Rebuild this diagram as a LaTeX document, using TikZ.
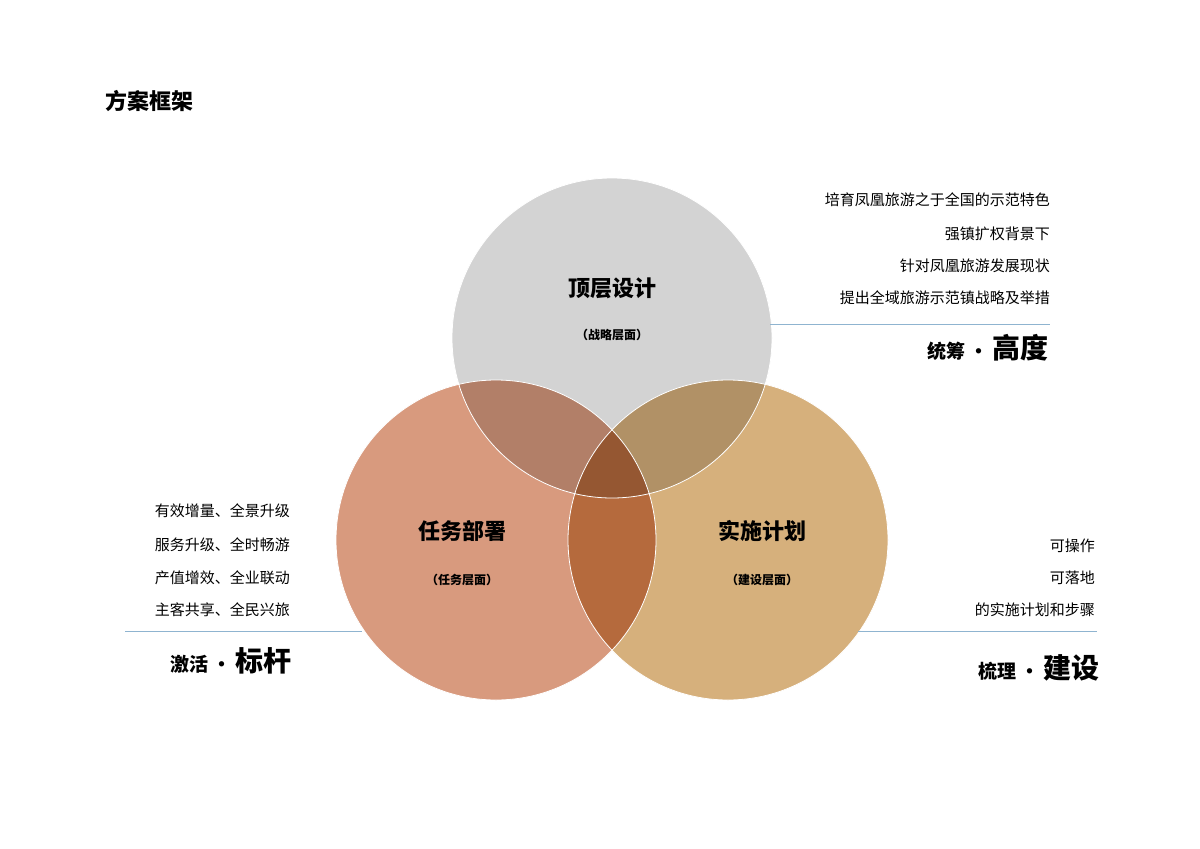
\documentclass[tikz,border=0pt]{standalone}
\usepackage{fontspec}
\setmainfont{Noto Sans CJK SC}
\definecolor{cgray}{HTML}{D3D3D3}
\definecolor{cleft}{HTML}{D89A7E}
\definecolor{cright}{HTML}{D6B07C}
\definecolor{lblue}{HTML}{8FB4D0}
\tikzset{
  circ/.style={blend mode=multiply},
  rline/.style={draw=lblue,line width=1pt},
  info/.style={anchor=east,inner sep=0pt,font=\fontsize{15}{15}\selectfont},
  head/.style={inner sep=0pt,font=\bfseries\fontsize{22}{22}\selectfont},
  sub/.style={inner sep=0pt,font=\bfseries\fontsize{12}{12}\selectfont},
  big/.style={anchor=east,inner sep=0pt,font=\bfseries\fontsize{19}{19}\selectfont}
}
\newcommand{\bigtxt}{\fontsize{28}{28}\selectfont}
\begin{document}
\begin{tikzpicture}[x=1pt,y=-1pt]
\useasboundingbox (0,0) rectangle (1200,849);
\fill[white] (0,0) rectangle (1200,849);
\node[anchor=west,inner sep=0pt,font=\bfseries\fontsize{22}{22}\selectfont] (title) at (105,101) {方案框架};
\begin{scope}[transparency group]
\fill[cgray,circ] (612,338) circle (160);
\fill[cleft,circ] (496,540) circle (160);
\fill[cright,circ] (728,540) circle (160);
\end{scope}
\draw[white,line width=0.8pt] (612,338) circle (160) (496,540) circle (160) (728,540) circle (160);
\node[head] (t1) at (612,288) {顶层设计};
\node[sub] (s1) at (612,335) {（战略层面）};
\node[head] (t2) at (462,531) {任务部署};
\node[sub] (s2) at (462,580) {（任务层面）};
\node[head] (t3) at (762,531) {实施计划};
\node[sub] (s3) at (762,580) {（建设层面）};
% right top
\node[info] (a1) at (1050,200) {培育凤凰旅游之于全国的示范特色};
\node[info] (a2) at (1050,234) {强镇扩权背景下};
\node[info] (a3) at (1050,266) {针对凤凰旅游发展现状};
\node[info] (a4) at (1050,298) {提出全域旅游示范镇战略及举措};
\coordinate (la1) at (770,324); \coordinate (la2) at (1050,324);
\draw[rline] (la1) -- (la2);
\node[big] (ha) at (1049,348) {统筹 · {\bigtxt 高度}};
% left
\node[info] (b1) at (290,511) {有效增量、全景升级};
\node[info] (b2) at (290,545) {服务升级、全时畅游};
\node[info] (b3) at (290,578) {产值增效、全业联动};
\node[info] (b4) at (290,610) {主客共享、全民兴旅};
\coordinate (lb1) at (125,631); \coordinate (lb2) at (362,631);
\draw[rline] (lb1) -- (lb2);
\node[big] (hb) at (292,661) {激活 · {\bigtxt 标杆}};
% right bottom
\node[info] (c1) at (1095,546) {可操作};
\node[info] (c2) at (1095,578) {可落地};
\node[info] (c3) at (1095,610) {的实施计划和步骤};
\coordinate (lc1) at (858,631); \coordinate (lc2) at (1097,631);
\draw[rline] (lc1) -- (lc2);
\node[big] (hc) at (1100,668) {梳理 · {\bigtxt 建设}};
\end{tikzpicture}
\end{document}
